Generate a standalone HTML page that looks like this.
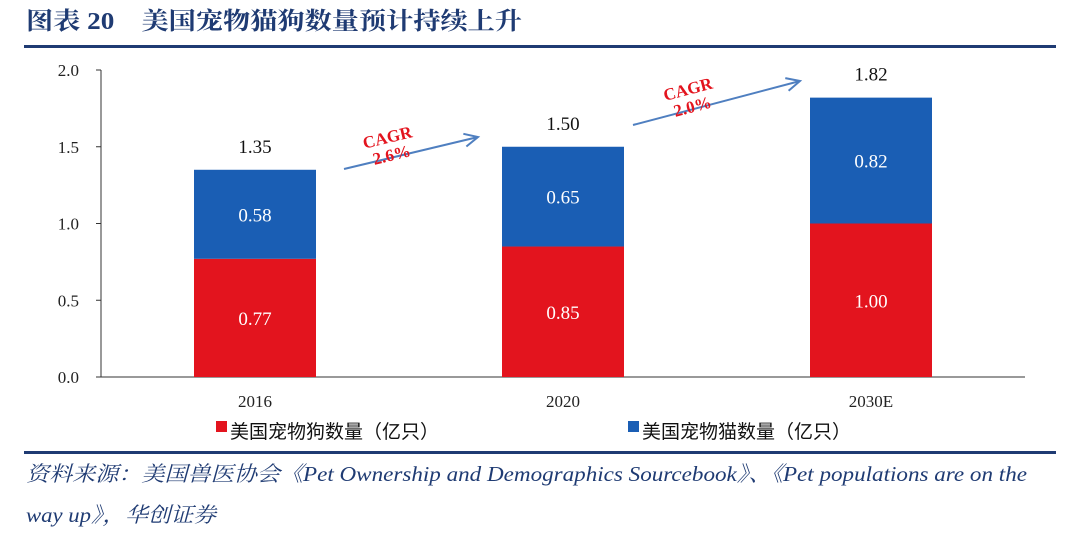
<!DOCTYPE html>
<html><head><meta charset="utf-8"><style>
body{margin:0;background:#fff;width:1080px;height:538px;overflow:hidden;font-family:"Liberation Serif","Noto Serif CJK SC",serif}
</style></head><body>
<svg width="1080" height="538" xmlns="http://www.w3.org/2000/svg">
<text x="26" y="29" font-size="24" font-weight="bold" fill="#1f3b73" textLength="496" lengthAdjust="spacingAndGlyphs" font-family="'Liberation Serif','Noto Serif CJK SC',serif">图表 20　美国宠物猫狗数量预计持续上升</text>
<rect x="24" y="45" width="1032" height="3" fill="#1f3b73"/>
<g id="plot"></g>
<rect x="24" y="451" width="1032" height="3" fill="#1f3b73"/>
<text x="26" y="481" font-size="21" font-style="italic" fill="#1f3b73" textLength="1001" lengthAdjust="spacingAndGlyphs" font-family="'Liberation Serif','Noto Serif CJK SC',serif">资料来源：美国兽医协会《Pet Ownership and Demographics Sourcebook》、《Pet populations are on the</text>
<text x="26" y="522" font-size="21" font-style="italic" fill="#1f3b73" textLength="190" lengthAdjust="spacingAndGlyphs" font-family="'Liberation Serif','Noto Serif CJK SC',serif">way up》，华创证券</text>
</svg>
<script>
const categories=["2016","2020","2030E"];
const dogs=[0.77,0.85,1.00];
const cats=[0.58,0.65,0.82];
const totals=["1.35","1.50","1.82"];
const yTicks=[0,0.5,1.0,1.5,2.0];
const cagrLabels=["2.6%","2.0%"];
const NS="http://www.w3.org/2000/svg";
const g=document.getElementById('plot');
const y0=377,yTop=70,x0=101,x1=1025;
const y=v=>y0-(v/2)*(y0-yTop);
const band=(x1-x0)/categories.length;
const cx=i=>x0+band*(i+0.5);
const bw=122;
function mk(tag,attrs,txt){const e=document.createElementNS(NS,tag);for(const k in attrs)e.setAttribute(k,attrs[k]);if(txt!=null)e.textContent=txt;g.appendChild(e);return e;}
const F="'Liberation Serif',serif";
let ax=mk('line',{x1:x0,y1:yTop,x2:x0,y2:y0,stroke:'#333'});

let bx=mk('line',{x1:x0,y1:y0,x2:x1,y2:y0,stroke:'#333'});

yTicks.forEach(t=>{
 let tk=mk('line',{x1:x0-5,y1:y(t),x2:x0,y2:y(t),stroke:'#333'});
 
 let l=mk('text',{x:x0-22,y:y(t)+6,'font-size':17,'text-anchor':'end','font-family':F,fill:'#222'},t.toFixed(1));
 
});
categories.forEach((c,i)=>{
 const x=cx(i)-bw/2;
 let d=mk('rect',{x:x,y:y(dogs[i]),width:bw,height:y0-y(dogs[i]),fill:'#e3141e'});
 
 let k=mk('rect',{x:x,y:y(dogs[i]+cats[i]),width:bw,height:y(dogs[i])-y(dogs[i]+cats[i]),fill:'#1a5eb4'});
 
 let dl=mk('text',{x:cx(i),y:(y(dogs[i])+y0)/2+7,'font-size':19,'text-anchor':'middle',fill:'#fff','font-family':F},dogs[i].toFixed(2));
 
 let cl=mk('text',{x:cx(i),y:(y(dogs[i])+y(dogs[i]+cats[i]))/2+7,'font-size':19,'text-anchor':'middle',fill:'#fff','font-family':F},cats[i].toFixed(2));
 
 let tl=mk('text',{x:cx(i),y:y(dogs[i]+cats[i])-17,'font-size':19,'text-anchor':'middle',fill:'#111','font-family':F},totals[i]);
 
 let xl=mk('text',{x:cx(i),y:y0+30,'font-size':17,'text-anchor':'middle',fill:'#222','font-family':F},c);
 
});
const arrows=[[344,169,478,137],[633,125,800,81]];
arrows.forEach((a,i)=>{
 let p=mk('path',{d:`M${a[0]},${a[1]}L${a[2]},${a[3]}`,stroke:'#4f7fc0','stroke-width':2,fill:'none'});
 
 const ang=Math.atan2(a[3]-a[1],a[2]-a[0]);
 const h=(s)=>[a[2]-15*Math.cos(ang+s),a[3]-15*Math.sin(ang+s)];
 const h1=h(0.45),h2=h(-0.45);
 let hd=mk('path',{d:`M${h1[0]},${h1[1]}L${a[2]},${a[3]}L${h2[0]},${h2[1]}`,stroke:'#4f7fc0','stroke-width':2,fill:'none'});
 
 const mx=a[0]+(a[2]-a[0])*0.36, my=a[1]+(a[3]-a[1])*0.36;
 const deg=ang*180/Math.PI;
 let t=mk('text',{transform:`translate(${mx},${my}) rotate(${deg})`,'font-size':17,'font-weight':'bold','text-anchor':'middle',fill:'#e3141e','font-family':F});
 
 const s1=document.createElementNS(NS,'tspan');s1.setAttribute('x',0);s1.setAttribute('y',-15);s1.textContent='CAGR';t.appendChild(s1);
 const s2=document.createElementNS(NS,'tspan');s2.setAttribute('x',0);s2.setAttribute('y',3);s2.textContent=cagrLabels[i];t.appendChild(s2);
});
const leg=[["美国宠物狗数量（亿只）",'#e3141e',216],["美国宠物猫数量（亿只）",'#1a5eb4',628]];
leg.forEach(l=>{
 let r=mk('rect',{x:l[2],y:421,width:11,height:11,fill:l[1]});
 
 let t=mk('text',{x:l[2]+14,y:438,'font-size':19,fill:'#111','font-family':"'Liberation Sans','Noto Sans CJK SC',sans-serif"},l[0]);
 
});
</script>
</body></html>
